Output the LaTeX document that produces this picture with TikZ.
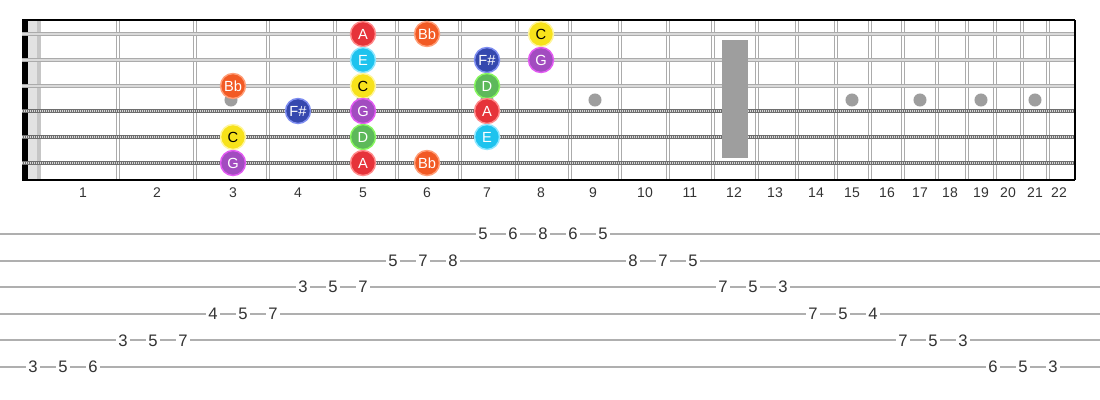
\documentclass[tikz,border=0pt]{standalone}
\usepackage{fontspec}
\setmainfont{Liberation Sans}
\usetikzlibrary{positioning}

\definecolor{wiregray}{HTML}{ABABAB}
\definecolor{stringgray}{HTML}{ABABAB}
\definecolor{stringlight}{HTML}{DADADA}
\definecolor{woundgray}{HTML}{6E6E6E}
\definecolor{woundlight}{HTML}{D8D8D8}
\definecolor{inlaygray}{HTML}{9E9E9E}
\definecolor{nutlight}{HTML}{E2E2E2}
\definecolor{nutdark}{HTML}{C6C6C6}
\definecolor{labelgray}{HTML}{333333}
\definecolor{tabgray}{HTML}{AFAFAF}
\definecolor{colA}{HTML}{E6333A}
\definecolor{ringA}{HTML}{FF8A8A}
\definecolor{colBb}{HTML}{F25A24}
\definecolor{ringBb}{HTML}{FF9E78}
\definecolor{colC}{HTML}{F7E21B}
\definecolor{ringC}{HTML}{FFF59D}
\definecolor{colD}{HTML}{5DB95A}
\definecolor{ringD}{HTML}{86F55E}
\definecolor{colE}{HTML}{1EC3EE}
\definecolor{ringE}{HTML}{8EE6FF}
\definecolor{colFs}{HTML}{3548AE}
\definecolor{ringFs}{HTML}{7E8DF0}
\definecolor{colG}{HTML}{A24CC0}
\definecolor{ringG}{HTML}{E25AF2}

\begin{document}
\begin{tikzpicture}[x=0.75pt,y=-0.75pt,
  note/.style={circle,minimum size=18.75pt,inner sep=0pt,line width=1.1pt,
    text=white,font=\fontsize{11}{12}\selectfont},
  nA/.style={note,fill=colA,draw=ringA},
  nBb/.style={note,fill=colBb,draw=ringBb},
  nC/.style={note,fill=colC,draw=ringC,text=black},
  nD/.style={note,fill=colD,draw=ringD},
  nE/.style={note,fill=colE,draw=ringE},
  nFs/.style={note,fill=colFs,draw=ringFs},
  nG/.style={note,fill=colG,draw=ringG},
  fretnum/.style={text=labelgray,font=\fontsize{10.5}{12}\selectfont},
  tabnum/.style={text=labelgray,fill=white,inner sep=1.5pt,font=\fontsize{12.5}{14}\selectfont},
  fretwire/.style={wiregray,line width=3.6pt},
  plainstring/.style={stringgray,line width=2.8pt},
  woundstring/.style={woundgray,line width=3pt}]
\useasboundingbox (0,0) rectangle (1100,400);

% nut
\fill[black] (22,20) rectangle (28,180);
\fill[nutlight] (28,20) rectangle (37,180);
\fill[nutdark] (37,20) rectangle (41,180);

% frets
\foreach \x in {118,195,268,335,397,460,517,570,620,668,713,757,797,836,870,903,937,967,995,1022,1048}
  {\draw[fretwire] (\x,20) -- (\x,180);
   \draw[white,line width=1.5pt] (\x,20) -- (\x,180);}

% strings
\foreach \y in {34,60,86}
  {\draw[plainstring] (22,\y) -- (1075,\y);
   \draw[stringlight,line width=1pt] (22,\y) -- (1075,\y);}
\foreach \y in {111,137,163}
  {\draw[woundstring] (22,\y) -- (1075,\y);
   \draw[woundlight,line width=1.5pt,dash pattern=on 0.6pt off 0.9pt] (22,\y) -- (1075,\y);}

% border
\draw[black,line width=1.2pt] (22,20) -- (1075,20);
\draw[black,line width=1.2pt] (22,180) -- (1075,180);
\draw[black,line width=1pt] (1075,20) -- (1075,180);

% inlays
\foreach \x in {231,363,487,595,852,920,981,1035}
  \fill[inlaygray] (\x,100) circle[radius=4.9pt];
\fill[inlaygray] (722,40) rectangle (748,158);

% notes
\node[nA]  (n1_5) at (363,34) {A};
\node[nBb] (n1_6) at (427,34) {Bb};
\node[nC]  (n1_8) at (541,34) {C};
\node[nE]  (n2_5) at (363,60) {E};
\node[nFs] (n2_7) at (487,60) {F\#};
\node[nG]  (n2_8) at (541,60) {G};
\node[nBb] (n3_3) at (233,86) {Bb};
\node[nC]  (n3_5) at (363,86) {C};
\node[nD]  (n3_7) at (487,86) {D};
\node[nFs] (n4_4) at (298,111) {F\#};
\node[nG]  (n4_5) at (363,111) {G};
\node[nA]  (n4_7) at (487,111) {A};
\node[nC]  (n5_3) at (233,137) {C};
\node[nD]  (n5_5) at (363,137) {D};
\node[nE]  (n5_7) at (487,137) {E};
\node[nG]  (n6_3) at (233,163) {G};
\node[nA]  (n6_5) at (363,163) {A};
\node[nBb] (n6_6) at (427,163) {Bb};

% fret numbers
\foreach \x [count=\n] in {83,157,233,298,363,427,487,541,593,645,690,734,775,816,852,887,920,950,981,1008,1035,1059}
  \node[fretnum] (f\n) at (\x,193) {\n};

% tab
\foreach \s in {1,...,6}
  \draw[tabgray,line width=1.5pt] (0,{234+26.6*(\s-1)}) -- (1100,{234+26.6*(\s-1)});
\foreach \s/\f [count=\i from 0] in {6/3,6/5,6/6,5/3,5/5,5/7,4/4,4/5,4/7,3/3,3/5,3/7,2/5,2/7,2/8,1/5,1/6,1/8,
    1/6,1/5,2/8,2/7,2/5,3/7,3/5,3/3,4/7,4/5,4/4,5/7,5/5,5/3,6/6,6/5,6/3}
  \node[tabnum] (t\i) at ({33+30*\i},{234+26.6*(\s-1)}) {\f};
\end{tikzpicture}
\end{document}
